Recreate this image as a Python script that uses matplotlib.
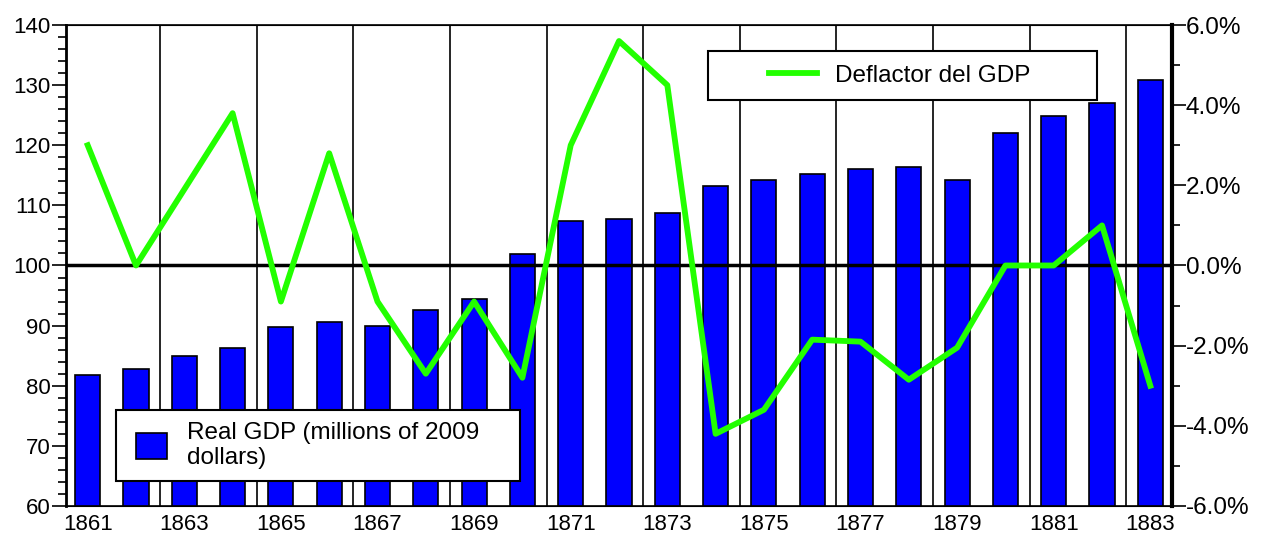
import matplotlib
matplotlib.use('Agg')
import matplotlib.pyplot as plt
from matplotlib.ticker import MultipleLocator, FuncFormatter
from matplotlib.patches import Rectangle
import numpy as np

plt.rcParams['font.family'] = ['Liberation Sans', 'DejaVu Sans']

years = np.arange(1861, 1884)
real_gdp = [81.8, 82.8, 84.9, 86.3, 89.7, 90.6, 90.0, 92.6, 94.5, 101.9,
            107.4, 107.7, 108.7, 113.2, 114.2, 115.3, 116.0, 116.3, 114.2, 122.1,
            124.8, 127.0, 130.8]
deflator = [3.0, 0.0, 1.9, 3.8, -0.9, 2.8, -0.9, -2.7, -0.9, -2.8,
            3.0, 5.6, 4.5, -4.2, -3.6, -1.85, -1.9, -2.85, -2.05, 0.0,
            0.0, 1.0, -3.0]
xlabels = [str(y) for y in range(1861, 1884, 2)]

fig = plt.figure(figsize=(12.66, 5.46), dpi=100)
ax = fig.add_axes([0.0521, 0.0733, 0.8737, 0.8809])

# vertical separators between year pairs
for xv in np.arange(1862.5, 1883, 2):
    ax.axvline(xv, color='black', lw=1.2, zorder=0)

ax.bar(years, real_gdp, width=0.52, color='#0000ff', edgecolor='black',
       linewidth=1.2, zorder=2, label='Real GDP (millions of 2009\ndollars)')
ax.axhline(100, color='black', lw=2.5, zorder=5)

ax.set_xlim(1860.55, 1883.45)
ax.set_ylim(60, 140)
ax.set_xticks(range(1861, 1884, 2))
ax.set_xticklabels(xlabels)
ax.tick_params(axis='x', length=0, labelsize=16, pad=6)
ax.yaxis.set_major_locator(MultipleLocator(10))
ax.yaxis.set_minor_locator(MultipleLocator(2))
ax.tick_params(axis='y', which='major', length=10, width=1.2, labelsize=16, pad=1)
ax.tick_params(axis='y', which='minor', length=5.5, width=1.2)
for s in ['left', 'right']:
    ax.spines[s].set_linewidth(2)
for s in ['top', 'bottom']:
    ax.spines[s].set_linewidth(1.2)

ax2 = ax.twinx()
ax2.plot(years, deflator, color='#22ff00', lw=4.2, label='Deflactor del GDP')
ax2.set_ylim(-6, 6)
ax2.yaxis.set_major_locator(MultipleLocator(2))
ax2.yaxis.set_minor_locator(MultipleLocator(1))
ax2.yaxis.set_major_formatter(FuncFormatter(lambda v, p: f'{v:.1f}%'))
ax2.tick_params(axis='y', which='major', length=10, width=1.2, labelsize=17.5, pad=0)
ax2.tick_params(axis='y', which='minor', length=6, width=1.2)
ax2.spines['right'].set_linewidth(3)

# legend boxes
ax.add_patch(Rectangle((0.0452, 0.052), 0.3653, 0.1476, transform=ax.transAxes,
                       facecolor='white', edgecolor='black', lw=1.5, zorder=8))
leg1 = ax.legend(loc='center left', bbox_to_anchor=(0.0633, 0.1258), frameon=False,
                 fontsize=17.5, handlelength=1.28, handleheight=1.28, borderpad=0,
                 handletextpad=0.82, labelspacing=0.1, borderaxespad=0)
leg1.set_zorder(10)

ax2.add_patch(Rectangle((0.5805, 0.844), 0.3517, 0.102, transform=ax2.transAxes,
                        facecolor='white', edgecolor='black', lw=1.5, zorder=8))
leg2 = ax2.legend(loc='center left', bbox_to_anchor=(0.6356, 0.895), frameon=False,
                  fontsize=17.5, handlelength=1.98, borderpad=0,
                  handletextpad=0.74, borderaxespad=0)
leg2.set_zorder(10)

fig.savefig('out.png', dpi=100)
